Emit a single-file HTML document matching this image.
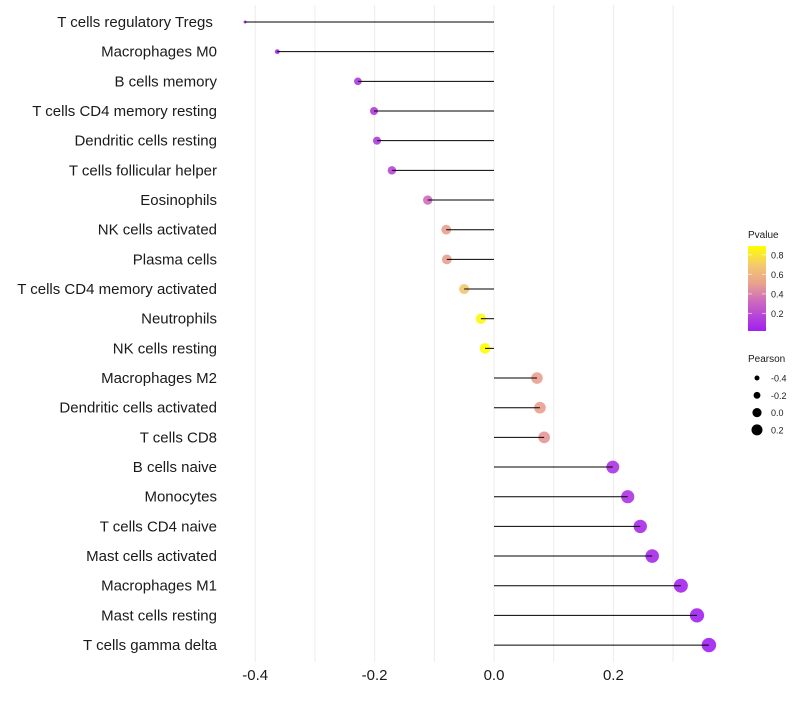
<!DOCTYPE html>
<html><head><meta charset="utf-8"><style>
body{margin:0;background:#fff;font-family:"Liberation Sans",sans-serif}
svg text{font-family:"Liberation Sans",sans-serif}
</style></head><body>
<svg id="chart" width="800" height="700"></svg>
<script>
const categories=["T cells regulatory  Tregs\u00a0","Macrophages M0","B cells memory","T cells CD4 memory resting","Dendritic cells resting","T cells follicular helper","Eosinophils","NK cells activated","Plasma cells","T cells CD4 memory activated","Neutrophils","NK cells resting","Macrophages M2","Dendritic cells activated","T cells CD8","B cells naive","Monocytes","T cells CD4 naive","Mast cells activated","Macrophages M1","Mast cells resting","T cells gamma delta"];
const pearson=[-0.417,-0.363,-0.228,-0.201,-0.196,-0.171,-0.111,-0.080,-0.079,-0.050,-0.022,-0.015,0.072,0.077,0.084,0.199,0.224,0.245,0.265,0.313,0.340,0.360];
const pvalue=[0.03,0.05,0.12,0.13,0.13,0.18,0.33,0.5,0.5,0.68,0.86,0.89,0.5,0.5,0.47,0.1,0.1,0.07,0.06,0.04,0.03,0.02];
const xTicks=[-0.4,-0.2,0.0,0.2];
const pTicks=[0.2,0.4,0.6,0.8];
const sizeTicks=[-0.4,-0.2,0.0,0.2];
const NS="http://www.w3.org/2000/svg";
const svg=document.getElementById("chart");
const x=v=>494+v*597;
const y=i=>22+i*29.67;
const pmin=0.02,pmax=0.89;
const stops=[[0,[160,32,240]],[0.35,[205,105,190]],[0.55,[232,160,144]],[0.77,[244,200,110]],[1,[255,255,0]]];
function col(p){let t=Math.max(0,Math.min(1,(p-pmin)/(pmax-pmin)));
 for(let k=1;k<stops.length;k++){if(t<=stops[k][0]){const a=stops[k-1],b=stops[k];const u=(t-a[0])/(b[0]-a[0]);
  return "rgb("+a[1].map((c,j)=>Math.round(c+(b[1][j]-c)*u)).join(",")+")";}}
 return "rgb(255,255,0)";}
const smin=-0.417,smax=0.36;
function rad(v){const t=(v-smin)/(smax-smin);return Math.sqrt(2.25+t*(52-2.25));}
function el(tag,at,parent){const e=document.createElementNS(NS,tag);for(const k in at)e.setAttribute(k,at[k]);(parent||svg).appendChild(e);return e;}
for(let g=-0.4;g<=0.35;g+=0.1){const gx=x(Math.round(g*10)/10);
 const l=el("line",{x1:gx,x2:gx,y1:5,y2:662,stroke:"#ececec","stroke-width":1});
 
 }
xTicks.forEach(v=>{const t=el("text",{x:x(v),y:680,"text-anchor":"middle","font-size":15,fill:"#1a1a1a"});t.textContent=v.toFixed(1);
 
 });
categories.forEach((c,i)=>{
 const t=el("text",{x:217,y:y(i)+5,"text-anchor":"end","font-size":15,fill:"#1a1a1a"});t.textContent=c;
 
 
 const d=el("circle",{cx:x(pearson[i]),cy:y(i),r:rad(pearson[i]),fill:col(pvalue[i]),"fill-opacity":0.9});
 
 
 const l=el("line",{x1:x(0),x2:x(pearson[i]),y1:y(i),y2:y(i),stroke:"#000","stroke-width":1});
 
 
});
const lt=el("text",{x:748,y:238,"font-size":10,fill:"#1a1a1a"});lt.textContent="Pvalue";


const defs=el("defs",{});
const gr=el("linearGradient",{id:"pg",x1:0,y1:1,x2:0,y2:0},defs);
stops.forEach(s=>el("stop",{offset:s[0],"stop-color":"rgb("+s[1].join(",")+")"},gr));
const pb=el("rect",{x:748,y:246,width:18,height:85,fill:"url(#pg)"});


const py=p=>331-(p-pmin)/(pmax-pmin)*85;
pTicks.forEach(p=>{el("line",{x1:748,x2:752,y1:py(p),y2:py(p),stroke:"#fff","stroke-opacity":0.6});el("line",{x1:762,x2:766,y1:py(p),y2:py(p),stroke:"#fff","stroke-opacity":0.6});
 const t=el("text",{x:771,y:py(p)+3.5,"font-size":9,fill:"#1a1a1a"});t.textContent=p.toFixed(1);
 
 });
const st=el("text",{x:748,y:362,"font-size":10,fill:"#1a1a1a"});st.textContent="Pearson";


sizeTicks.forEach((v,i)=>{const cy=378+i*17.3;
 const c=el("circle",{cx:757,cy:cy,r:Math.max(2.5,rad(v)*0.85),fill:"#000"});
 
 
 const t=el("text",{x:771,y:cy+3.5,"font-size":9,fill:"#1a1a1a"});t.textContent=v.toFixed(1);
 
 });
</script>
</body></html>
